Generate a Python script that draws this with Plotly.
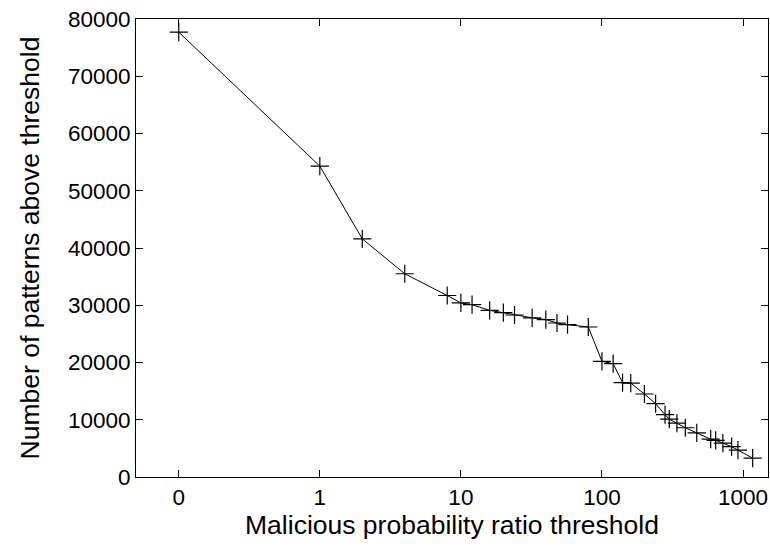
import plotly.graph_objects as go

thresholds = [0, 1, 2, 4, 8, 10, 12, 16, 20, 24, 32, 40, 48, 57, 80,
              100, 120, 140, 160, 200, 240, 280, 300, 340, 390, 470, 590, 640, 720, 830, 920, 1170]
patterns = [77700, 54300, 41600, 35500, 31700, 30400, 30100, 29100, 28700, 28300, 27800, 27500, 26900, 26600, 26200,
            20200, 19800, 16500, 16400, 14500, 12800, 10900, 10100, 9400, 8600, 7700, 6600, 6400, 5900, 5300, 4700, 3300]
tick_values = [0, 1, 10, 100, 1000]
tick_labels = ["0", "1", "10", "100", "1000"]
y_ticks = [0, 10000, 20000, 30000, 40000, 50000, 60000, 70000, 80000]

ZERO_POS = 0.1  # zero drawn one decade below 1 on the log axis
def pos(v):
    return v if v > 0 else ZERO_POS

fig = go.Figure()
fig.add_trace(go.Scatter(
    x=[pos(t) for t in thresholds], y=patterns,
    mode="lines+markers",
    line=dict(color="black", width=1),
    marker=dict(symbol="cross-thin", size=13, line=dict(color="black", width=1.2)),
    showlegend=False,
))

font = dict(family="Liberation Sans, Arial, sans-serif", color="black")
fig.update_layout(
    width=770, height=548,
    margin=dict(l=136, r=2, t=19, b=71),
    plot_bgcolor="white", paper_bgcolor="white",
    font=dict(**font, size=22),
)
fig.update_xaxes(
    type="log", range=[-1.303, 3.177],
    tickvals=[pos(v) for v in tick_values], ticktext=tick_labels,
    ticks="inside", ticklen=7, tickcolor="black",
    showline=True, linecolor="black", linewidth=1, mirror="ticks",
    showgrid=False, zeroline=False,
    tickfont=dict(size=22.5),
    title=dict(text="Malicious probability ratio threshold", font=dict(size=26.5), standoff=5),
)
fig.update_yaxes(
    range=[0, 80000], tickvals=y_ticks, tickformat="d",
    ticks="inside", ticklen=7, tickcolor="black",
    showline=True, linecolor="black", linewidth=1, mirror="ticks",
    showgrid=False, zeroline=False,
    tickfont=dict(size=22.5),
    title=dict(text="Number of patterns above threshold", font=dict(size=26.5), standoff=20),
)
fig.write_html("out.html")
